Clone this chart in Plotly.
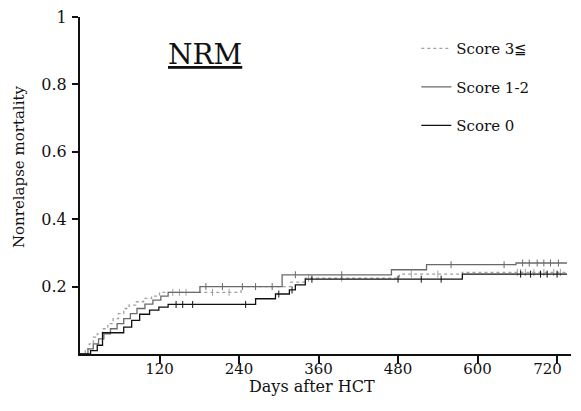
import plotly.graph_objects as go

# ---- data ----
score3_days = [0, 8, 14, 20, 26, 34, 42, 50, 58, 66, 74, 84, 96, 108, 120, 243, 318, 340, 482, 577, 735]
score3_vals = [0, 0.015, 0.03, 0.05, 0.06, 0.075, 0.09, 0.105, 0.12, 0.135, 0.145, 0.155, 0.165, 0.172, 0.183, 0.2, 0.213, 0.225, 0.237, 0.242, 0.242]
score3_cens = [140, 150, 160, 200, 225, 345, 395, 500, 540, 660, 665, 672, 685, 700, 715, 725]

score12_days = [0, 12, 20, 28, 36, 46, 56, 66, 76, 86, 98, 110, 122, 133, 181, 305, 470, 523, 658, 735]
score12_vals = [0, 0.015, 0.03, 0.045, 0.06, 0.075, 0.09, 0.105, 0.12, 0.135, 0.148, 0.16, 0.172, 0.183, 0.2, 0.235, 0.25, 0.265, 0.27, 0.27]
score12_cens = [190, 215, 245, 265, 290, 325, 395, 560, 640, 668, 678, 690, 700, 710, 722]

score0_days = [0, 16, 26, 34, 60, 66, 78, 90, 105, 119, 133, 265, 295, 316, 325, 340, 577, 735]
score0_vals = [0, 0.01, 0.026, 0.063, 0.063, 0.08, 0.1, 0.118, 0.13, 0.139, 0.147, 0.164, 0.178, 0.19, 0.205, 0.222, 0.237, 0.237]
score0_cens = [145, 155, 170, 250, 300, 320, 350, 480, 515, 545, 665, 680, 695, 705, 720]

x_ticks = [120, 240, 360, 480, 600, 720]
x_tick_labels = ["120", "240", "360", "480", "600", "720"]
y_ticks = [0.2, 0.4, 0.6, 0.8, 1]
y_tick_labels = ["0.2", "0.4", "0.6", "0.8", "1"]

series = [
    ("Score 3\u2266", score3_days, score3_vals, score3_cens, "#a0a0a0", "dot"),
    ("Score 1-2", score12_days, score12_vals, score12_cens, "#6a6a6a", "solid"),
    ("Score 0", score0_days, score0_vals, score0_cens, "#111111", "solid"),
]


def step_at(days, vals, d):
    v = vals[0]
    for dd, vv in zip(days, vals):
        if dd <= d:
            v = vv
    return v


# keep the last x label inside the visible page edge (pad with figure spaces)
x_tick_text = x_tick_labels[:-1] + [x_tick_labels[-1] + "\u2007\u2007"]

FONT = "DejaVu Serif"
fig = go.Figure()
for i, (name, d, v, c, col, dash) in enumerate(series):
    fig.add_trace(go.Scatter(
        x=d, y=v, mode="lines", name=name, legendgroup=str(i),
        line=dict(shape="hv", color=col, width=1.3, dash=dash),
    ))
    fig.add_trace(go.Scatter(
        x=c, y=[step_at(d, v, t) for t in c], mode="markers",
        showlegend=False, hoverinfo="skip",
        marker=dict(symbol="line-ns", size=5, line=dict(color=col, width=1)),
    ))

fig.update_layout(
    width=573, height=395,
    margin=dict(l=72, r=0, t=7, b=49),
    paper_bgcolor="white", plot_bgcolor="white",
    font=dict(family=FONT, size=15, color="#111"),
    showlegend=True,
    legend=dict(x=0.685, y=0.955, xanchor="left", yanchor="top",
                bgcolor="rgba(0,0,0,0)", tracegroupgap=16, itemwidth=30,
                font=dict(family=FONT, size=15, color="#111")),
    xaxis=dict(range=[0, 741], tickvals=x_ticks, ticktext=x_tick_text,
               showgrid=False, zeroline=False,
               showline=True, linecolor="#111", linewidth=2,
               ticks="outside", ticklen=8, tickwidth=2, tickcolor="#111",
               ticklabelstandoff=-8, ticklabeloverflow="allow",
               tickfont=dict(family=FONT, size=15, color="#111")),
    yaxis=dict(range=[0, 1], tickvals=y_ticks, ticktext=y_tick_labels,
               showgrid=False, zeroline=False,
               showline=True, linecolor="#111", linewidth=2,
               ticks="outside", ticklen=6, tickwidth=2, tickcolor="#111",
               ticklabelstandoff=2, ticklabeloverflow="allow",
               tickfont=dict(family=FONT, size=16, color="#111")),
    annotations=[
        dict(text="Days after HCT", xref="paper", yref="paper", x=0.473, y=-0.095,
             xanchor="center", yanchor="middle", showarrow=False,
             font=dict(family=FONT, size=16, color="#111")),
        dict(text="Nonrelapse mortality", xref="paper", yref="paper", x=-0.124, y=0.555,
             xanchor="center", yanchor="middle", showarrow=False, textangle=-90,
             font=dict(family=FONT, size=15, color="#111")),
        dict(text="<u>NRM</u>", xref="paper", yref="paper", x=0.2555, y=0.888,
             xanchor="center", yanchor="middle", showarrow=False,
             font=dict(family=FONT, size=28, color="#111")),
    ],
)

fig.write_html("out.html")
